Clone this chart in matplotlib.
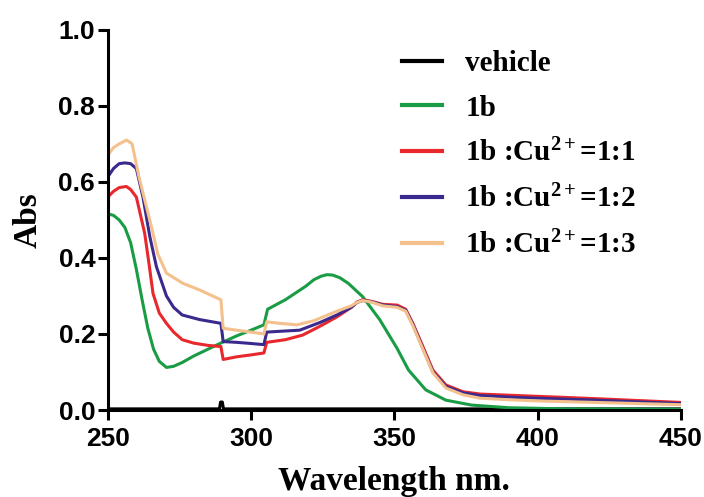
import matplotlib
matplotlib.use('Agg')
import matplotlib.pyplot as plt

# --- data ---
wl_vehicle = [250, 289.0, 289.4, 290.0, 290.4, 450]
abs_vehicle = [0.003, 0.003, 0.021, 0.021, 0.003, 0.003]

wl_1b = [250, 252, 254, 256, 258, 260, 262, 264, 266, 268, 270.5, 273, 276, 280, 285, 290,
         295, 300, 304.5, 305.8, 309, 312, 316, 319, 322, 324.5, 326.5, 328.5, 331, 334, 339,
         345, 351, 355, 361, 368, 377, 390, 410, 450]
abs_1b = [0.516, 0.512, 0.50, 0.48, 0.44, 0.37, 0.29, 0.215, 0.16, 0.128, 0.112, 0.115, 0.125,
          0.142, 0.16, 0.178, 0.195, 0.21, 0.224, 0.265, 0.278, 0.29, 0.31, 0.325, 0.343, 0.352,
          0.356, 0.355, 0.348, 0.333, 0.298, 0.237, 0.162, 0.105, 0.053, 0.026, 0.013, 0.006,
          0.003, 0.002]

wl_cu11 = [250, 252, 254, 256.5, 258, 260, 262.9, 264.5, 265.8, 268, 270.5, 273, 276, 280, 285,
           289.5, 290.3, 295, 300, 304.5, 305.5, 312, 318, 324, 330, 335, 337, 339, 342, 346,
           351, 354, 356.5, 360, 363.5, 368, 374, 380, 390, 400, 420, 450]
abs_cu11 = [0.56, 0.575, 0.585, 0.588, 0.58, 0.56, 0.465, 0.38, 0.307, 0.255, 0.228, 0.205, 0.185,
            0.176, 0.17, 0.167, 0.133, 0.14, 0.145, 0.15, 0.178, 0.185, 0.197, 0.22, 0.245, 0.27,
            0.284, 0.29, 0.286, 0.278, 0.276, 0.265, 0.228, 0.167, 0.105, 0.066, 0.048, 0.042,
            0.039, 0.036, 0.030, 0.020]

wl_cu12 = [250, 252, 254, 256, 258, 260, 262.3, 264.7, 267, 270.5, 273, 276, 282, 289.5, 290.3,
           295, 300, 304.5, 305.5, 310, 317, 324, 330, 335, 337, 339, 342, 346, 351, 354, 356.5,
           360, 363.5, 368, 374, 380, 390, 400, 420, 450]
abs_cu12 = [0.613, 0.635, 0.648, 0.65, 0.648, 0.635, 0.56, 0.456, 0.377, 0.30, 0.27, 0.25, 0.238,
            0.228, 0.18, 0.178, 0.175, 0.172, 0.205, 0.207, 0.21, 0.23, 0.25, 0.27, 0.283, 0.288,
            0.285, 0.276, 0.272, 0.262, 0.225, 0.162, 0.10, 0.062, 0.045, 0.038, 0.034, 0.031,
            0.026, 0.017]

wl_cu13 = [250, 252, 254, 256.6, 258.5, 261, 263, 265, 267.5, 270.5, 276.3, 282, 289.5, 290.3,
           295, 300, 304.5, 305.5, 310, 316, 322, 330, 335, 337, 339, 342, 346, 351, 354, 356.5,
           360, 363.5, 368, 374, 380, 390, 400, 420, 450]
abs_cu13 = [0.67, 0.69, 0.70, 0.71, 0.70, 0.61, 0.55, 0.49, 0.41, 0.36, 0.333, 0.316, 0.29, 0.215,
            0.21, 0.205, 0.20, 0.232, 0.228, 0.224, 0.235, 0.26, 0.274, 0.283, 0.288, 0.284,
            0.274, 0.27, 0.26, 0.222, 0.16, 0.098, 0.058, 0.04, 0.031, 0.027, 0.024, 0.02, 0.014]

labels = ['vehicle', '1b', '1b :Cu$^{2+}$=1:1', '1b :Cu$^{2+}$=1:2', '1b :Cu$^{2+}$=1:3']
colors = ['black', '#1a9c44', '#e8282c', '#3a2a8e', '#f4c08c']

plt.rcParams['mathtext.fontset'] = 'custom'
plt.rcParams['mathtext.rm'] = 'Liberation Serif:bold'
plt.rcParams['mathtext.it'] = 'Liberation Serif:bold'
plt.rcParams['mathtext.bf'] = 'Liberation Serif:bold'

fig = plt.figure(figsize=(7.04, 4.97), dpi=100)
ax = fig.add_axes([0.153, 0.175, 0.814, 0.765])

series = [(wl_vehicle, abs_vehicle), (wl_1b, abs_1b), (wl_cu11, abs_cu11),
          (wl_cu12, abs_cu12), (wl_cu13, abs_cu13)]
for (x, y), lab, c in zip(series, labels, colors):
    ax.plot(x, y, color=c, lw=2.2, label=lab, solid_joinstyle='round')

ax.set_xlim(250, 450)
ax.set_ylim(0, 1.0)
ax.set_xticks([250, 300, 350, 400, 450])
ax.set_yticks([0.0, 0.2, 0.4, 0.6, 0.8, 1.0])
ax.set_yticklabels(['0.0', '0.2', '0.4', '0.6', '0.8', '1.0'])

for s in ['top', 'right']:
    ax.spines[s].set_visible(False)
for s in ['left', 'bottom']:
    ax.spines[s].set_linewidth(2.2)
ax.tick_params(direction='out', length=7, width=2.2, labelsize=19, pad=2)
ax.tick_params(axis='x', pad=5)
for t in ax.get_xticklabels() + ax.get_yticklabels():
    t.set_fontfamily('Liberation Sans')
    t.set_fontweight('bold')

ax.set_xlabel('Wavelength nm.', fontfamily='Liberation Serif', fontweight='bold',
              fontsize=24, labelpad=11)
ax.set_ylabel('Abs', fontfamily='Liberation Serif', fontweight='bold', fontsize=24, labelpad=11)

leg = fig.legend(loc='upper left', bbox_to_anchor=(402 / 704, 1 - 50 / 497), frameon=False,
                 prop={'family': 'Liberation Serif', 'weight': 'bold', 'size': 21},
                 handlelength=1.37, handletextpad=0.8, labelspacing=0.6, borderpad=0,
                 borderaxespad=0)
for line in leg.get_lines():
    line.set_linewidth(3)

fig.savefig('out.png', dpi=100)
